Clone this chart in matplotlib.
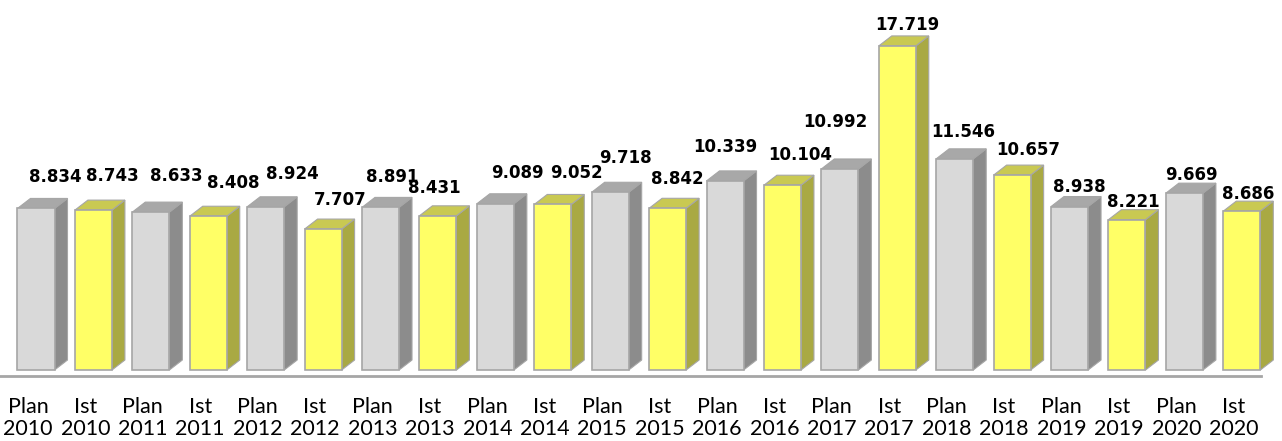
import matplotlib
matplotlib.use("Agg")
import matplotlib.pyplot as plt
from matplotlib.patches import Polygon

# --- DATA ---
kinds = ["Plan", "Ist"] * 11
years = [y for y in range(2010, 2021) for _ in range(2)]
values = [8.834, 8.743, 8.633, 8.408, 8.924, 7.707, 8.891, 8.431, 9.089, 9.052,
          9.718, 8.842, 10.339, 10.104, 10.992, 17.719, 11.546, 10.657, 8.938,
          8.221, 9.669, 8.686]
labels = [f"{k}\n{y}" for k, y in zip(kinds, years)]

# value label placement relative to the bar (Excel staggers them to avoid overlap)
label_lift = [1.17, 1.34, 1.44, 1.28, 1.23, 1.06, 1.12, 0.97, 1.11, 1.16,
              1.31, 1.05, 1.30, 1.10, 2.00, 0.60, 0.90, 0.80, 0.54, 0.40, 0.47, 0.40]
label_shift_px = [19, 19, 25, 25, 27, 17, 12, -4, 22, 24, 15,
                  10, 0, 18, -5, 10, 8, 16, 10, 6, 7, 6]

# --- STYLE ---
grey = dict(front="#d9d9d9", side="#8c8c8c", top="#a8a8a8")
yellow = dict(front="#ffff66", side="#a9a943", top="#c9c952")
edge = "#a6a6a6"

W, D, H = 0.645, 0.226, 0.547   # front width, depth dx, depth dy (data units)
PX = 57.4                       # pixels per category

fig = plt.figure(figsize=(12.82, 4.41), dpi=100)
ax = fig.add_axes([0, 0, 1, 1])
ax.set_xlim(-0.627, 21.70)
ax.set_ylim(-3.88, 20.23)
ax.axis("off")

for i, v in enumerate(values):
    c = grey if kinds[i] == "Plan" else yellow
    x0, x1 = i - W / 2, i + W / 2
    ax.bar(i, v, width=W, color=c["front"], edgecolor=edge, linewidth=1.2, zorder=3)
    side = [(x1, 0), (x1 + D, H), (x1 + D, v + H), (x1, v)]
    top = [(x0, v), (x0 + D, v + H), (x1 + D, v + H), (x1, v)]
    ax.add_patch(Polygon(side, closed=True, facecolor=c["side"], edgecolor=edge, linewidth=0.8, zorder=2))
    ax.add_patch(Polygon(top, closed=True, facecolor=c["top"], edgecolor=edge, linewidth=0.8, zorder=2))
    ax.text(i + label_shift_px[i] / PX, v + H + label_lift[i], f"{v:.3f}", ha="center", va="center",
            fontsize=12, fontweight="bold", family="DejaVu Sans", color="black", zorder=4)
    ax.text(i - 0.14, -2.62, labels[i], ha="center", va="center", fontsize=15.5,
            family="Lato", color="black", linespacing=1.1)

# baseline
ax.plot([-0.627, 21.33], [-0.33, -0.33], color="#a6a6a6", linewidth=2, zorder=1)

fig.savefig("out.png", dpi=100)
